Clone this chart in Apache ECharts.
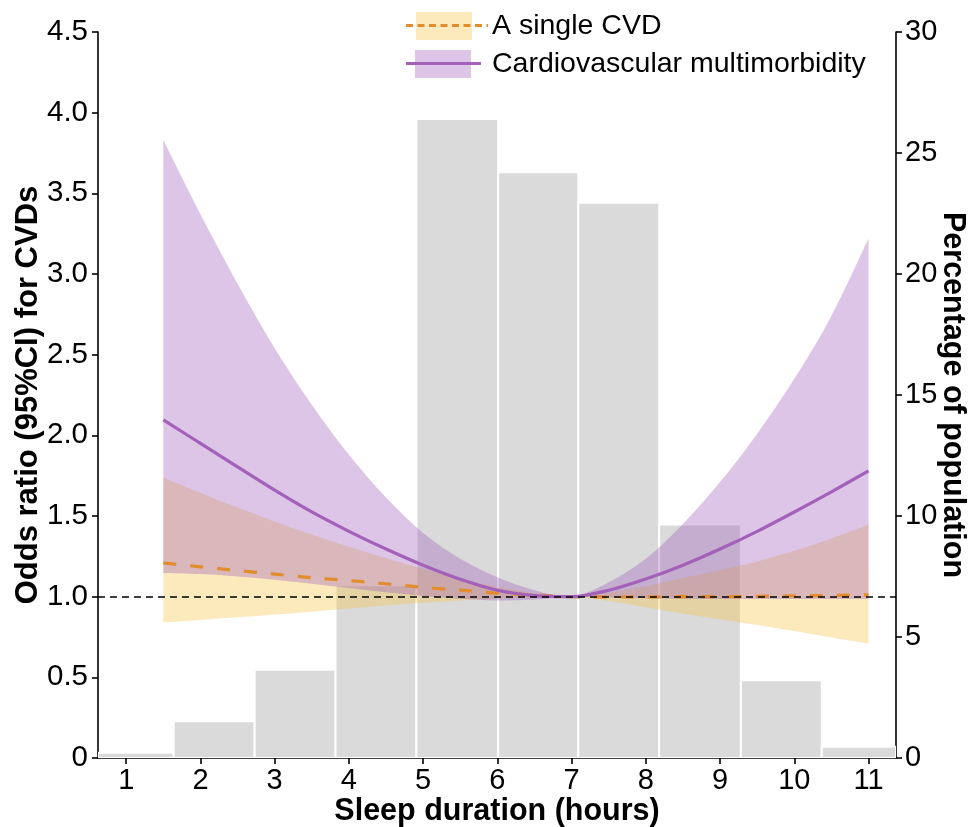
<!DOCTYPE html>
<html><head><meta charset="utf-8">
<script src="https://cdn.jsdelivr.net/npm/echarts@6/dist/echarts.min.js"></script>
<style>html,body{margin:0;padding:0;background:#fff}#c{width:969px;height:827px}</style>
</head><body><div id="c"></div>
<script>
// ---- data ----
const hours = [1.5, 2, 2.5, 3, 3.5, 4, 4.5, 5, 5.5, 6, 6.5, 7, 7.5, 8, 8.5, 9, 9.5, 10, 10.5, 11];

const singleOR  = [1.209, 1.185, 1.162, 1.140, 1.117, 1.100, 1.080, 1.058, 1.040, 1.022, 1.010, 1.000, 0.998, 0.998, 1.000, 1.000, 1.002, 1.005, 1.008, 1.012];
const singleLow = [0.841, 0.856, 0.872, 0.889, 0.907, 0.926, 0.945, 0.962, 0.977, 0.989, 0.997, 1.000, 0.973, 0.935, 0.896, 0.859, 0.824, 0.787, 0.747, 0.709];
const singleUp  = [1.738, 1.642, 1.552, 1.466, 1.385, 1.309, 1.238, 1.172, 1.112, 1.060, 1.022, 1.000, 1.023, 1.065, 1.116, 1.164, 1.218, 1.284, 1.361, 1.445];

const multiOR  = [2.096, 1.950, 1.804, 1.660, 1.525, 1.405, 1.295, 1.195, 1.108, 1.040, 1.007, 1.000, 1.040, 1.110, 1.195, 1.295, 1.405, 1.525, 1.650, 1.780];
const multiLow = [1.147, 1.140, 1.125, 1.105, 1.080, 1.053, 1.027, 1.004, 0.987, 0.976, 0.982, 1.000, 0.995, 0.990, 0.987, 0.985, 0.985, 0.985, 0.985, 0.985];
const multiUp  = [3.830, 3.370, 2.940, 2.540, 2.190, 1.880, 1.615, 1.395, 1.235, 1.120, 1.040, 1.000, 1.090, 1.235, 1.450, 1.710, 2.010, 2.350, 2.740, 3.220];

const binEdges = [0.62, 1.64, 2.73, 3.82, 4.91, 6.01, 7.09, 8.18, 9.28, 10.37, 11.37];
const popPct   = [0.22, 1.52, 3.65, 7.14, 26.4, 24.2, 22.94, 9.65, 3.21, 0.46];

const xTicks = [1, 2, 3, 4, 5, 6, 7, 8, 9, 10, 11];
const refOR = 1;

// ---- chart ----
const FONT = '"Liberation Sans", Arial, Helvetica, sans-serif';
const chart = echarts.init(document.getElementById('c'), null, {renderer: 'canvas'});
const pairs = ys => hours.map((h, i) => [h, ys[i]]);
const bandRows = (lo, up) => hours.map((h, i) => [h, lo[i], up[i]]);
const histData = popPct.map((p, i) => [binEdges[i], binEdges[i + 1], p]);

// Catmull-Rom spline through pixel points -> SVG path commands
function splinePath(pts, start) {
  const n = pts.length;
  let s = start + pts[0][0].toFixed(2) + ',' + pts[0][1].toFixed(2);
  for (let i = 0; i < n - 1; i++) {
    const p0 = pts[Math.max(i - 1, 0)], p1 = pts[i], p2 = pts[i + 1], p3 = pts[Math.min(i + 2, n - 1)];
    const c1 = [p1[0] + (p2[0] - p0[0]) / 6, p1[1] + (p2[1] - p0[1]) / 6];
    const c2 = [p2[0] - (p3[0] - p1[0]) / 6, p2[1] - (p3[1] - p1[1]) / 6];
    s += 'C' + c1[0].toFixed(2) + ',' + c1[1].toFixed(2) + ' ' + c2[0].toFixed(2) + ',' + c2[1].toFixed(2) + ' ' + p2[0].toFixed(2) + ',' + p2[1].toFixed(2);
  }
  return s;
}
function bandSeries(name, rows, color, z) {
  return {
    type: 'custom', name: name, xAxisIndex: 0, yAxisIndex: 0, z: z, silent: true,
    data: rows, encode: {x: 0, y: [1, 2]},
    renderItem: (params, api) => {
      if (params.dataIndex !== 0) return null;
      const upper = rows.map(r => api.coord([r[0], r[2]]));
      const lower = rows.map(r => api.coord([r[0], r[1]])).reverse();
      const d = splinePath(upper, 'M') + splinePath(lower, 'L') + 'Z';
      return {type: 'path', shape: {pathData: d}, style: {fill: color, opacity: 0.35}};
    }
  };
}

const axisLineStyle = {color: '#000', width: 1.6};
const tickLabel = {color: '#000', fontSize: 29, fontFamily: FONT};
const titleStyle = {color: '#000', fontSize: 30.5, fontWeight: 'bold', fontFamily: FONT};
const SM = 0.33;

const option = {
  animation: false,
  backgroundColor: '#fff',
  grid: {left: 98, right: 73, top: 32, bottom: 69, containLabel: false, outerBoundsMode: 'none'},
  xAxis: {
    type: 'value', min: binEdges[0], max: binEdges[binEdges.length - 1],
    axisLine: {show: true, onZero: false, lineStyle: axisLineStyle},
    axisTick: {show: true, length: 6, lineStyle: axisLineStyle, customValues: xTicks},
    axisLabel: Object.assign({customValues: xTicks, margin: 8}, tickLabel),
    splitLine: {show: false},
    name: 'Sleep duration (hours)', nameLocation: 'middle', nameGap: 38, nameMoveOverlap: false, nameTextStyle: titleStyle
  },
  yAxis: [{
    type: 'value', min: 0, max: 4.5, interval: 0.5, position: 'left',
    axisLine: {show: true, onZero: false, lineStyle: axisLineStyle},
    axisTick: {show: true, length: 6, lineStyle: axisLineStyle},
    axisLabel: Object.assign({margin: 10, formatter: v => v === 0 ? '0' : v.toFixed(1)}, tickLabel, {fontSize: 29.5}),
    splitLine: {show: false},
    name: 'Odds ratio (95%CI) for CVDs', nameLocation: 'middle', nameGap: 54, nameMoveOverlap: false,
    nameTextStyle: Object.assign({}, titleStyle, {fontSize: 31})
  }, {
    type: 'value', min: 0, max: 30, interval: 5, position: 'right',
    axisLine: {show: true, onZero: false, lineStyle: axisLineStyle},
    axisTick: {show: true, length: 6, lineStyle: axisLineStyle},
    axisLabel: Object.assign({margin: 9}, tickLabel),
    splitLine: {show: false},
    name: 'Percentage of population', nameLocation: 'middle', nameRotate: -90, nameGap: 41, nameMoveOverlap: false,
    nameTextStyle: titleStyle
  }],
  series: [
    {
      type: 'custom', name: 'population', xAxisIndex: 0, yAxisIndex: 1, z: 1, silent: true, clip: true,
      data: histData, encode: {x: [0, 1], y: 2},
      renderItem: (params, api) => {
        const p0 = api.coord([api.value(0), api.value(2)]);
        const p1 = api.coord([api.value(1), 0]);
        return {type: 'rect', shape: {x: p0[0], y: p0[1], width: p1[0] - p0[0], height: p1[1] - p0[1]},
                style: {fill: '#dadada', stroke: '#ffffff', lineWidth: 2}};
      }
    },
    bandSeries('singleCI', bandRows(singleLow, singleUp), '#f5c342', 2),
    bandSeries('multiCI', bandRows(multiLow, multiUp), '#9b59b6', 3),
    {type: 'line', name: 'A single CVD', data: pairs(singleOR), smooth: SM, symbol: 'none',
     lineStyle: {color: '#e38c2d', width: 3.2, type: [13, 14]}, z: 4, silent: true},
    {type: 'line', name: 'Cardiovascular multimorbidity', data: pairs(multiOR), smooth: SM, symbol: 'none',
     lineStyle: {color: '#a461ba', width: 3.2}, z: 5, silent: true,
     markLine: {silent: true, symbol: 'none', z: 10, label: {show: false},
                lineStyle: {color: '#000', width: 1.6, type: [7, 5]}, data: [{yAxis: refOR}]}}
  ],
  graphic: [
    {type: 'rect', left: 416, top: 12, shape: {width: 56, height: 28}, style: {fill: 'rgba(245,195,66,0.35)'}, z: 20},
    {type: 'line', shape: {x1: 406, y1: 25.5, x2: 488, y2: 25.5}, style: {stroke: '#e38c2d', lineWidth: 3, lineDash: [7, 4.5]}, z: 21},
    {type: 'text', x: 492, y: 26, style: {text: 'A single CVD', fontSize: 28.5, fontFamily: FONT, fill: '#000', align: 'left', verticalAlign: 'middle'}, z: 21},
    {type: 'rect', left: 415, top: 50, shape: {width: 56, height: 28}, style: {fill: 'rgba(155,89,182,0.35)'}, z: 20},
    {type: 'line', shape: {x1: 406, y1: 63.5, x2: 481, y2: 63.5}, style: {stroke: '#a461ba', lineWidth: 3}, z: 21},
    {type: 'text', x: 492, y: 64, style: {text: 'Cardiovascular multimorbidity', fontSize: 28.5, fontFamily: FONT, fill: '#000', align: 'left', verticalAlign: 'middle'}, z: 21}
  ]
};
chart.setOption(option);
</script>
</body></html>
